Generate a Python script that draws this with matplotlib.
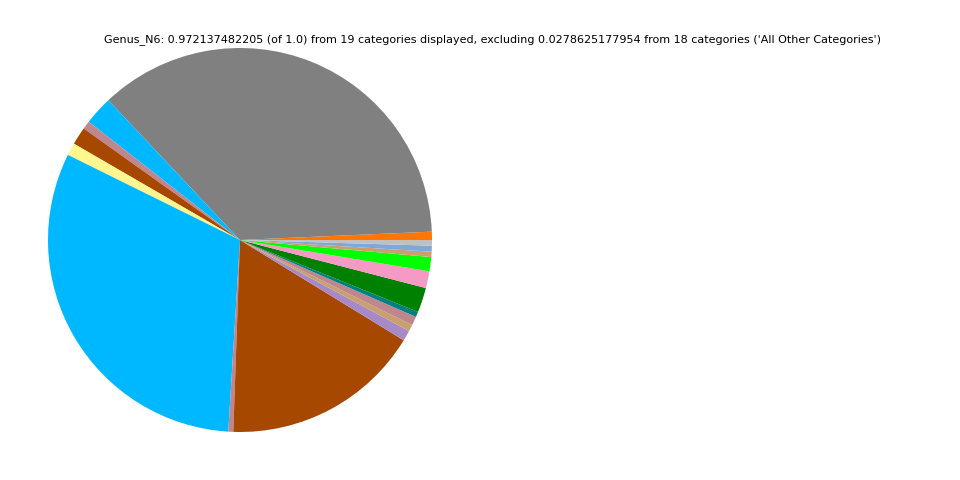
import matplotlib
matplotlib.use("Agg")
import matplotlib.pyplot as plt

# slice values (counterclockwise from 3 o'clock)
values = [0.00675, 0.3532, 0.0235, 0.00675, 0.01458, 0.01026, 0.3046, 0.00405,
          0.1634, 0.00864, 0.0054, 0.00729, 0.00432, 0.02025, 0.01377, 0.01161,
          0.00432, 0.00486, 0.00459]
colors = ["#ff7700", "#808080", "#00b8ff", "#c0868e", "#a64800", "#fff68f",
          "#00b8ff", "#c0868e", "#a64800", "#a889c8", "#c8a070", "#c0868e",
          "#008080", "#008000", "#f59ac4", "#00ff00", "#c8a070", "#7fa7d8",
          "#c0c0c0"]
title = ("Genus_N6: 0.972137482205 (of 1.0) from 19 categories displayed, "
         "excluding 0.0278625177954 from 18 categories ('All Other Categories')")

fig = plt.figure(figsize=(9.6, 4.8), dpi=100)
ax = fig.add_axes([48/960, 48/480, 384/960, 384/480])
ax.pie(values, colors=colors, startangle=0, normalize=True)
ax.set_xlim(-1, 1)
ax.set_ylim(-1, 1)
ax.set_aspect("equal")

fig.text(493/960, 1 - 40/480, title, ha="center", va="center", fontsize=8)

fig.savefig("out.png", dpi=100)
